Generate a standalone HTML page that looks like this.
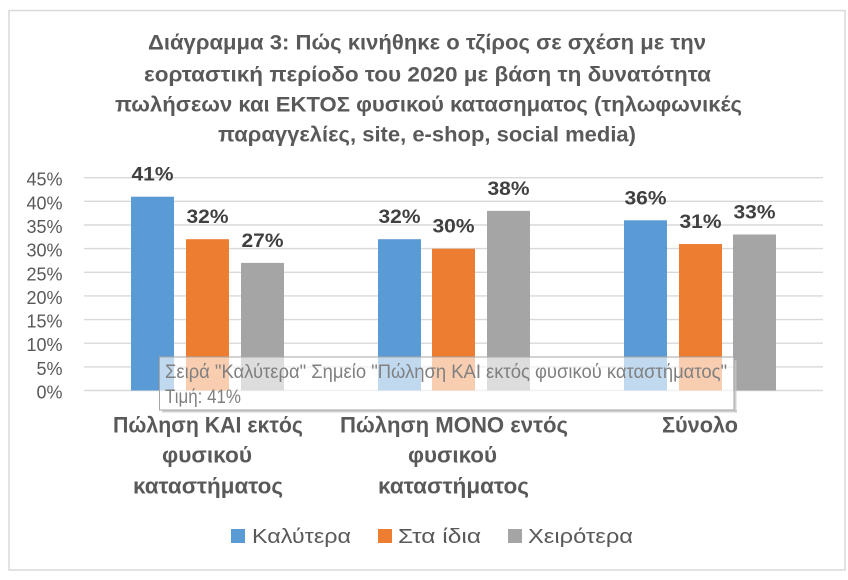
<!DOCTYPE html>
<html>
<head>
<meta charset="utf-8">
<style>
  html, body { margin:0; padding:0; background:#ffffff; }
  body { width:848px; height:580px; overflow:hidden; }
  svg { display:block; }
  text { font-family: "Liberation Sans", "DejaVu Sans", sans-serif; }
</style>
</head>
<body>
<svg width="848" height="580" viewBox="0 0 848 580" xmlns="http://www.w3.org/2000/svg">
  <rect x="0" y="0" width="848" height="580" fill="#ffffff"/>
  <!-- outer frame -->
  <rect x="9" y="10.5" width="836" height="559.5" fill="#ffffff" stroke="#d9d9d9" stroke-width="1.5"/>

  <!-- title -->
  <g fill="#595959" font-weight="bold" font-size="21" text-anchor="middle">
    <text x="427" y="49.5" textLength="558" lengthAdjust="spacingAndGlyphs">Διάγραμμα 3: Πώς κινήθηκε ο τζίρος σε σχέση με την</text>
    <text x="427.5" y="81.5" textLength="567" lengthAdjust="spacingAndGlyphs">εορταστική περίοδο του 2020 με βάση τη δυνατότητα</text>
    <text x="428.5" y="111.5" textLength="627" lengthAdjust="spacingAndGlyphs">πωλήσεων και ΕΚΤΟΣ φυσικού κατασηματος (τηλωφωνικές</text>
    <text x="427" y="141.5" textLength="418" lengthAdjust="spacingAndGlyphs">παραγγελίες, site, e-shop, social media)</text>
  </g>

  <!-- gridlines -->
  <g stroke="#d9d9d9" stroke-width="1.4">
    <line x1="84" y1="177.7" x2="823" y2="177.7"/>
    <line x1="84" y1="201.3" x2="823" y2="201.3"/>
    <line x1="84" y1="225.0" x2="823" y2="225.0"/>
    <line x1="84" y1="248.6" x2="823" y2="248.6"/>
    <line x1="84" y1="272.3" x2="823" y2="272.3"/>
    <line x1="84" y1="295.9" x2="823" y2="295.9"/>
    <line x1="84" y1="319.6" x2="823" y2="319.6"/>
    <line x1="84" y1="343.2" x2="823" y2="343.2"/>
    <line x1="84" y1="366.9" x2="823" y2="366.9"/>
    <line x1="84" y1="390.5" x2="823" y2="390.5"/>
  </g>

  <!-- y labels -->
  <g fill="#595959" font-size="18" text-anchor="end">
    <text x="62.5" y="185.7">45%</text>
    <text x="62.5" y="209.3">40%</text>
    <text x="62.5" y="233.0">35%</text>
    <text x="62.5" y="256.6">30%</text>
    <text x="62.5" y="280.3">25%</text>
    <text x="62.5" y="303.9">20%</text>
    <text x="62.5" y="327.6">15%</text>
    <text x="62.5" y="351.2">10%</text>
    <text x="62.5" y="374.9">5%</text>
    <text x="62.5" y="398.5">0%</text>
  </g>

  <!-- bars -->
  <g>
    <rect x="131" y="196.7" width="43" height="193.8" fill="#5b9bd5"/>
    <rect x="186" y="239.2" width="43" height="151.3" fill="#ed7d31"/>
    <rect x="241" y="262.9" width="43" height="127.6" fill="#a5a5a5"/>

    <rect x="378" y="239.2" width="43" height="151.3" fill="#5b9bd5"/>
    <rect x="432" y="248.7" width="43" height="141.8" fill="#ed7d31"/>
    <rect x="487" y="210.9" width="43" height="179.6" fill="#a5a5a5"/>

    <rect x="624" y="220.3" width="43" height="170.2" fill="#5b9bd5"/>
    <rect x="679" y="244.0" width="43" height="146.5" fill="#ed7d31"/>
    <rect x="733" y="234.5" width="43" height="156.0" fill="#a5a5a5"/>
  </g>

  <!-- data labels -->
  <g fill="#404040" font-weight="bold" font-size="19" text-anchor="middle">
    <text x="152.5" y="180.7" textLength="42" lengthAdjust="spacingAndGlyphs">41%</text>
    <text x="207.5" y="223.2" textLength="42" lengthAdjust="spacingAndGlyphs">32%</text>
    <text x="262.5" y="246.9" textLength="42" lengthAdjust="spacingAndGlyphs">27%</text>

    <text x="399.5" y="223.2" textLength="42" lengthAdjust="spacingAndGlyphs">32%</text>
    <text x="453.5" y="232.7" textLength="42" lengthAdjust="spacingAndGlyphs">30%</text>
    <text x="508.5" y="194.9" textLength="42" lengthAdjust="spacingAndGlyphs">38%</text>

    <text x="645.5" y="204.3" textLength="42" lengthAdjust="spacingAndGlyphs">36%</text>
    <text x="700.5" y="228.0" textLength="42" lengthAdjust="spacingAndGlyphs">31%</text>
    <text x="754.5" y="218.5" textLength="42" lengthAdjust="spacingAndGlyphs">33%</text>
  </g>

  <!-- tooltip -->
  <rect x="162" y="410" width="575" height="2.5" fill="#c4c4c4" opacity="0.8"/>
  <rect x="734" y="360" width="2.5" height="52.5" fill="#c4c4c4" opacity="0.8"/>
  <rect x="159.5" y="357" width="574.5" height="53" fill="#ffffff" fill-opacity="0.62" stroke="#a6a6a6" stroke-width="1"/>
  <g fill="#808080" font-size="19">
    <text x="165" y="378" textLength="562" lengthAdjust="spacingAndGlyphs">Σειρά "Καλύτερα" Σημείο "Πώληση ΚΑΙ εκτός φυσικού καταστήματος"</text>
    <text x="165" y="403" textLength="76" lengthAdjust="spacingAndGlyphs">Τιμή: 41%</text>
  </g>

  <!-- x labels -->
  <g fill="#595959" font-weight="bold" font-size="22" text-anchor="middle">
    <text x="208" y="432.3" textLength="190" lengthAdjust="spacingAndGlyphs">Πώληση ΚΑΙ εκτός</text>
    <text x="207" y="462.7" textLength="90" lengthAdjust="spacingAndGlyphs">φυσικού</text>
    <text x="208" y="493.3" textLength="150" lengthAdjust="spacingAndGlyphs">καταστήματος</text>

    <text x="454" y="432.3" textLength="228" lengthAdjust="spacingAndGlyphs">Πώληση ΜΟΝΟ εντός</text>
    <text x="452.5" y="462.7" textLength="89" lengthAdjust="spacingAndGlyphs">φυσικού</text>
    <text x="453.5" y="493.3" textLength="151" lengthAdjust="spacingAndGlyphs">καταστήματος</text>

    <text x="700" y="432.3" textLength="76" lengthAdjust="spacingAndGlyphs">Σύνολο</text>
  </g>

  <!-- legend -->
  <rect x="231" y="529" width="14" height="14" fill="#5b9bd5"/>
  <rect x="378" y="529" width="14" height="14" fill="#ed7d31"/>
  <rect x="508" y="529" width="14" height="14" fill="#a5a5a5"/>
  <g fill="#595959" font-size="20">
    <text x="252" y="543" textLength="99" lengthAdjust="spacingAndGlyphs">Καλύτερα</text>
    <text x="398" y="543" textLength="83" lengthAdjust="spacingAndGlyphs">Στα ίδια</text>
    <text x="528" y="543" textLength="105" lengthAdjust="spacingAndGlyphs">Χειρότερα</text>
  </g>
</svg>
</body>
</html>
